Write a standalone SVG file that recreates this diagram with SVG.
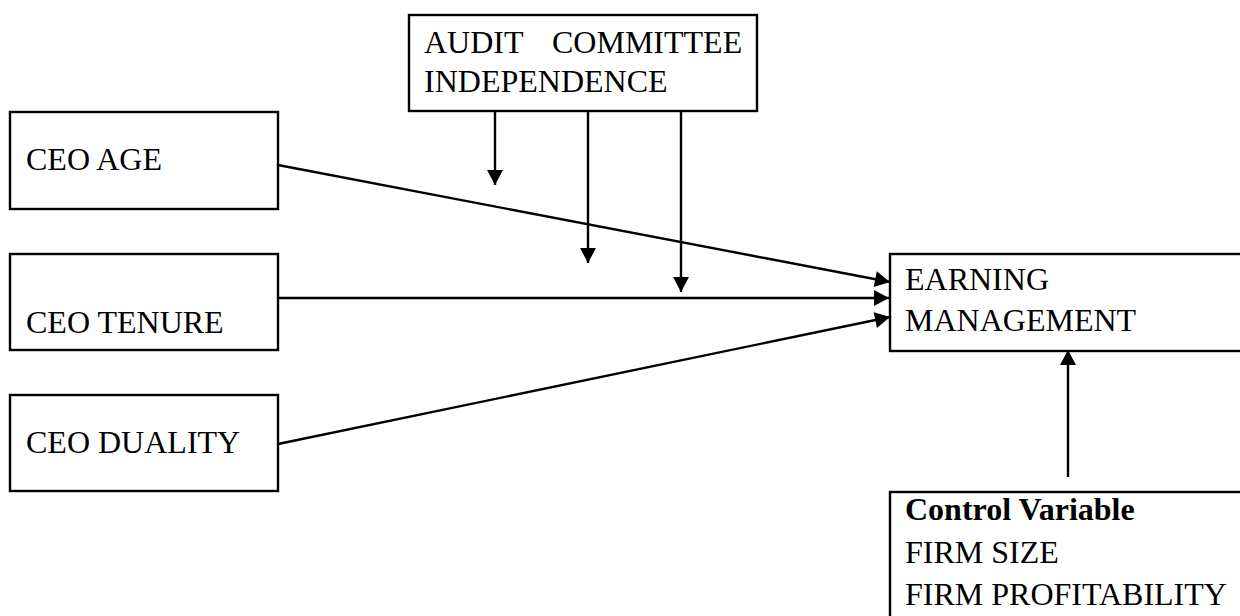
<svg xmlns="http://www.w3.org/2000/svg" width="1240" height="616" viewBox="0 0 1240 616">
<style>
.box{fill:#fff;stroke:#000;stroke-width:2.4}
.t{font-family:"Liberation Serif","Times New Roman",serif;font-size:32px;fill:#000}
.b{font-weight:bold}
.c{stroke:#000;stroke-width:2.4;fill:none}
</style>
<defs>
<marker id="ah" markerUnits="userSpaceOnUse" markerWidth="16" markerHeight="16" viewBox="0 0 15 16" refX="15" refY="8" orient="auto">
<path d="M0,0 L15,8 L0,16 Z" fill="#000"/>
</marker>
</defs>
<rect width="1240" height="616" fill="#fff"/>
<g id="audit">
<rect class="box" x="409" y="15" width="348" height="96"/>
<text class="t" y="53"><tspan x="424">AUDIT</tspan><tspan x="552">COMMITTEE</tspan></text>
<text class="t" x="424" y="92">INDEPENDENCE</text>
</g>
<g id="ceo-age">
<rect class="box" x="10" y="112" width="268" height="97"/>
<text class="t" x="26" y="170">CEO AGE</text>
</g>
<g id="ceo-tenure">
<rect class="box" x="10" y="254" width="268" height="96"/>
<text class="t" x="26" y="333">CEO TENURE</text>
</g>
<g id="ceo-duality">
<rect class="box" x="10" y="395" width="268" height="96"/>
<text class="t" x="26" y="453">CEO DUALITY</text>
</g>
<g id="earning">
<rect class="box" x="890" y="254" width="360" height="97"/>
<text class="t" x="905" y="290">EARNING</text>
<text class="t" x="905" y="331">MANAGEMENT</text>
</g>
<g id="control">
<rect class="box" x="890" y="492" width="360" height="140"/>
<text class="t b" x="905" y="520">Control Variable</text>
<text class="t" x="905" y="563">FIRM SIZE</text>
<text class="t" x="905" y="605">FIRM PROFITABILITY</text>
</g>
<g id="connectors">
<line class="c" x1="278" y1="165" x2="890" y2="282" marker-end="url(#ah)"/>
<line class="c" x1="278" y1="298" x2="889" y2="298" marker-end="url(#ah)"/>
<line class="c" x1="278" y1="444" x2="890" y2="317" marker-end="url(#ah)"/>
<line class="c" x1="495" y1="111" x2="495" y2="185" marker-end="url(#ah)"/>
<line class="c" x1="588" y1="111" x2="588" y2="263" marker-end="url(#ah)"/>
<line class="c" x1="681" y1="111" x2="681" y2="292" marker-end="url(#ah)"/>
<line class="c" x1="1068" y1="477" x2="1068" y2="350" marker-end="url(#ah)"/>
</g>
</svg>
